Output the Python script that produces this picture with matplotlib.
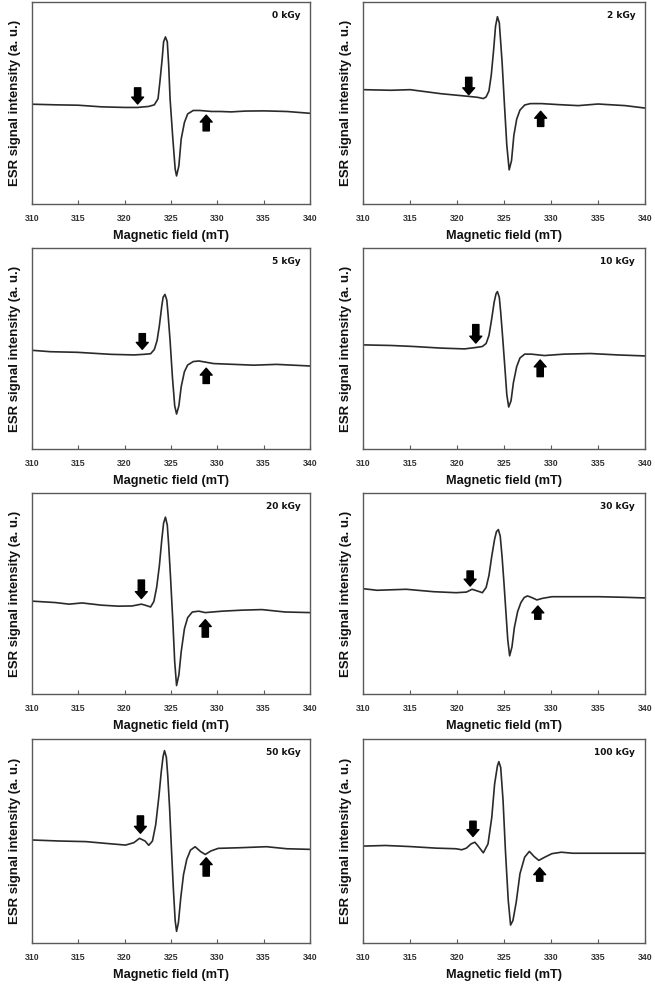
import matplotlib
matplotlib.use("Agg")
import matplotlib.pyplot as plt

doses = ["0 kGy", "2 kGy", "5 kGy", "10 kGy", "20 kGy", "30 kGy", "50 kGy", "100 kGy"]

# magnetic field (mT) and ESR signal (a.u., % of panel height)
x_0 = [310, 312.5, 315, 317.5, 320, 321.4, 322.6, 323.2, 323.6, 323.8, 324.05, 324.2, 324.4, 324.6, 324.75,
       324.9, 325.2, 325.45, 325.6, 325.85, 326.1, 326.45, 326.8, 327.4, 328.1, 329.4, 330.3, 331.5, 333, 335,
       337.5, 340]
y_0 = [49.4, 49.1, 48.9, 48.1, 47.8, 47.8, 48.3, 49.1, 52.1, 60.4, 72.0, 80.3, 82.7, 80.3, 68.7,
       52.1, 32.2, 17.3, 13.9, 18.9, 32.2, 40.4, 44.6, 46.3, 46.3, 45.8, 45.8, 45.6, 46.0, 46.1,
       45.8, 44.9]

x_2 = [310, 313, 315, 318.3, 321.2, 322.2, 322.8, 323.1, 323.4, 323.65, 323.9, 324.1, 324.3, 324.5, 324.65,
       324.8, 325.05, 325.3, 325.55, 325.8, 326.05, 326.35, 326.7, 327.2, 327.8, 329.0, 330.8, 332.9, 335.0,
       337.9, 340]
y_2 = [56.6, 56.3, 56.6, 54.6, 53.3, 52.8, 52.2, 53.0, 56.0, 64.0, 76.5, 88.0, 92.7, 89.7, 80.0,
       70.0, 49.0, 29.0, 16.9, 21.5, 34.0, 42.0, 46.5, 49.0, 49.7, 49.7, 49.2, 48.7, 49.5,
       48.7, 47.5]

x_5 = [310, 312, 314.9, 318.5, 321, 322.1, 322.8, 323.2, 323.5, 323.75, 324.0, 324.15, 324.35, 324.55, 324.7,
       324.9, 325.15, 325.4, 325.6, 325.85, 326.1, 326.45, 326.8, 327.4, 328.0, 329.6, 331.8, 333.9, 336.4, 340]
y_5 = [49.1, 48.4, 48.1, 47.1, 46.8, 47.1, 47.4, 49.5, 54.0, 61.5, 71.0, 75.5, 76.9, 74.0, 66.0,
       54.0, 36.0, 21.5, 17.4, 21.5, 31.0, 38.5, 41.8, 43.5, 43.8, 42.5, 42.1, 41.7, 42.1, 41.3]

x_10 = [310, 313, 315.4, 318.3, 320.8, 322.0, 322.7, 323.1, 323.4, 323.7, 323.95, 324.15, 324.3, 324.5, 324.65,
        324.85, 325.1, 325.3, 325.5, 325.75, 326.0, 326.35, 326.7, 327.2, 327.9, 329.3, 331.4, 334.2, 337.1, 340]
y_10 = [51.8, 51.5, 51.0, 50.2, 49.8, 50.5, 51.0, 52.5, 56.5, 65.0, 73.0, 77.2, 78.3, 75.5, 68.0,
        56.0, 40.1, 27.0, 20.9, 24.0, 33.0, 41.0, 45.3, 47.2, 47.2, 46.5, 47.2, 47.5, 46.8, 46.3]

x_20 = [310, 312.5, 314, 315.4, 317.5, 319.3, 320.8, 321.8, 322.2, 322.8, 323.15, 323.45, 323.75, 324.0, 324.2,
        324.4, 324.6, 324.75, 324.95, 325.2, 325.4, 325.6, 325.85, 326.1, 326.45, 326.8, 327.3, 328.0, 328.7,
        330.5, 332.6, 334.8, 337.3, 340]
y_20 = [46.2, 45.5, 44.7, 45.3, 44.2, 43.7, 43.8, 44.7, 44.2, 43.3, 46.0, 53.0, 64.0, 76.5, 85.0,
        88.0, 84.0, 74.0, 58.0, 36.0, 16.0, 4.2, 9.5, 21.0, 32.5, 38.0, 40.8, 41.2, 40.5,
        41.2, 41.7, 42.0, 40.8, 40.5]

x_30 = [310, 311.5, 314.6, 317.5, 319.9, 321.0, 321.6, 322.2, 322.7, 323.1, 323.4, 323.7, 324.0, 324.2, 324.4,
        324.6, 324.8, 325.0, 325.2, 325.4, 325.6, 325.85, 326.1, 326.45, 326.8, 327.15, 327.5, 328.0, 328.5,
        329.1, 330.1, 332.6, 335.1, 337.9, 340]
y_30 = [52.4, 51.6, 52.1, 50.9, 50.4, 50.7, 52.1, 51.2, 50.4, 53.0, 59.0, 68.6, 77.0, 80.8, 81.8,
        78.5, 68.0, 55.0, 41.0, 27.0, 19.0, 23.5, 33.0, 41.0, 45.5, 48.0, 48.8, 47.9, 46.8,
        47.6, 48.4, 48.4, 48.4, 48.1, 47.8]

x_50 = [310, 312.9, 315.8, 318.3, 320.1, 321.0, 321.6, 322.2, 322.6, 323.0, 323.35, 323.7, 323.95, 324.15, 324.3,
        324.5, 324.65, 324.85, 325.05, 325.25, 325.45, 325.6, 325.8, 326.05, 326.35, 326.7, 327.1, 327.6, 328.2,
        328.7, 329.3, 330.1, 332.4, 335.3, 337.5, 340]
y_50 = [50.5, 50.0, 49.7, 48.7, 48.0, 49.2, 51.3, 50.0, 47.9, 50.0, 58.0, 72.1, 84.0, 91.5, 94.3,
        91.0, 82.0, 66.0, 46.0, 27.0, 11.0, 5.7, 10.0, 22.0, 33.5, 41.0, 45.5, 47.2, 44.8,
        43.4, 45.1, 46.4, 46.7, 47.2, 46.2, 45.9]

x_100 = [310, 312.4, 314.9, 317.8, 319.9, 320.5, 321.0, 321.5, 321.9, 322.2, 322.8, 323.3, 323.7, 324.0, 324.3,
         324.45, 324.65, 324.9, 325.15, 325.45, 325.7, 325.95, 326.3, 326.7, 327.2, 327.7, 328.2, 328.7, 329.35,
         330.1, 331.1, 332.3, 334.5, 336.6, 340]
y_100 = [47.5, 47.8, 47.3, 46.5, 46.2, 45.7, 46.5, 48.6, 49.4, 47.8, 44.2, 48.6, 61.6, 77.9, 86.8,
         88.9, 86.0, 69.8, 45.4, 21.0, 8.8, 11.0, 20.0, 34.0, 42.1, 44.9, 42.4, 40.5, 42.1,
         43.8, 44.5, 44.0, 44.0, 44.0, 44.0]

fields = [x_0, x_2, x_5, x_10, x_20, x_30, x_50, x_100]
signals = [y_0, y_2, y_5, y_10, y_20, y_30, y_50, y_100]

# arrow markers: (field, tail, tip) for the down arrow and the up arrow
down_arrows = [(321.4, 57.5, 49.5), (321.25, 62.7, 54.1), (321.9, 57.4, 49.6), (322.0, 61.9, 52.7),
               (321.8, 56.7, 47.5), (321.4, 61.2, 53.7), (321.7, 62.3, 53.8), (321.7, 59.7, 52.2)]
up_arrows = [(328.8, 36.2, 44.0), (328.9, 38.4, 45.9), (328.8, 32.6, 40.2), (328.85, 36.0, 44.3),
             (328.7, 28.3, 37.0), (328.6, 37.2, 43.8), (328.8, 32.8, 41.8), (328.8, 30.3, 36.9)]

xticks = [310, 315, 320, 325, 330, 335, 340]

fig = plt.figure(figsize=(6.55, 9.85), dpi=100)

col_x = [32 / 655, 363 / 655]
col_w = [278 / 655, 282 / 655]
row_px = [(2, 204), (248, 449), (493, 694), (739, 943)]

frame_col = "#5a5a5a"
for i, dose in enumerate(doses):
    r, c = divmod(i, 2)
    top, bot = row_px[r]
    ax = fig.add_axes([col_x[c], 1 - bot / 985, col_w[c], (bot - top) / 985])
    ax.plot(fields[i], signals[i], color="#2a2a2a", lw=1.2, solid_joinstyle="round")
    ax.set_xlim(310, 340)
    ax.set_ylim(0, 100)
    ax.set_xticks(xticks)
    ax.set_xticklabels([str(t) for t in xticks], fontsize=6.3, fontweight="bold",
                       color="#333333", family="Liberation Sans")
    ax.set_yticks([])
    ax.tick_params(axis="x", direction="in", length=3, width=0.8, color=frame_col, pad=7)
    for sp in ax.spines.values():
        sp.set_color(frame_col)
        sp.set_linewidth(1.0)
    ax.set_xlabel("Magnetic field (mT)", fontsize=9.2, fontweight="bold",
                  family="Liberation Sans", color="#111111", labelpad=5)
    ax.set_ylabel("ESR signal intensity (a. u.)", fontsize=9.5, fontweight="bold",
                  family="Liberation Sans", color="#111111", labelpad=8)
    ax.text(0.965, 0.955, dose, transform=ax.transAxes, ha="right", va="top",
            fontsize=6.5, fontweight="bold", family="DejaVu Sans", color="#111111")
    for (xa, yt, yh) in (down_arrows[i], up_arrows[i]):
        ax.annotate("", xy=(xa, yh), xytext=(xa, yt),
                    arrowprops=dict(arrowstyle="simple,head_width=0.95,head_length=0.55,tail_width=0.5",
                                    color="black", mutation_scale=9, shrinkA=0, shrinkB=0))

fig.savefig("out.png", dpi=100)
